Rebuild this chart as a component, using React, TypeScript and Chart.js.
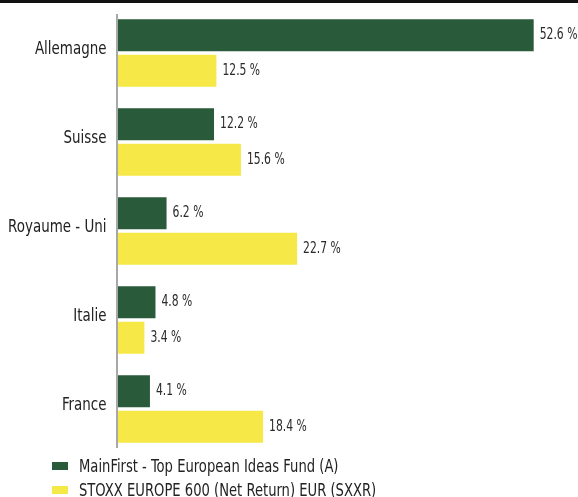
import React, { useEffect, useRef } from "react";
import { Chart, registerables } from "chart.js";

Chart.register(...registerables);

const categories = ["Allemagne", "Suisse", "Royaume - Uni", "Italie", "France"];
const fundLabel = "MainFirst - Top European Ideas Fund (A)";
const benchLabel = "STOXX EUROPE 600 (Net Return) EUR (SXXR)";
const fundValues = [52.6, 12.2, 6.2, 4.8, 4.1];
const benchValues = [12.5, 15.6, 22.7, 3.4, 18.4];

const GREEN = "#295a39";
const YELLOW = "#f6e846";
const FONT = "'Liberation Sans Narrow', 'DejaVu Sans Condensed', 'Arial Narrow', sans-serif";

const drawNarrow = (ctx: any, text: string, x: number, y: number, sx: number) => {
  ctx.save();
  ctx.translate(x, y);
  ctx.scale(sx, 1);
  ctx.fillText(text, 0, 0);
  ctx.restore();
};

const valueLabels = {
  id: "valueLabels",
  afterDatasetsDraw(chart: any) {
    const ctx = chart.ctx;
    ctx.save();
    ctx.font = `15px ${FONT}`;
    ctx.fillStyle = "#2a2a2a";
    ctx.textAlign = "left";
    ctx.textBaseline = "middle";
    chart.data.datasets.forEach((ds: any, i: number) => {
      const meta = chart.getDatasetMeta(i);
      meta.data.forEach((bar: any, j: number) => {
        const v = ds.data[j];
        drawNarrow(ctx, v.toFixed(1) + " %", bar.x + 6, bar.y, 0.8);
      });
    });
    ctx.restore();
  },
};

const categoryLabels = {
  id: "categoryLabels",
  afterDraw(chart: any) {
    const { ctx, chartArea } = chart;
    const scale = chart.scales.y;
    ctx.save();
    ctx.font = `18px ${FONT}`;
    ctx.fillStyle = "#222";
    ctx.textAlign = "right";
    ctx.textBaseline = "middle";
    chart.data.labels.forEach((lab: string, i: number) => {
      drawNarrow(ctx, lab, chartArea.left - 11, scale.getPixelForTick(i) - 3.5, 0.83);
    });
    ctx.restore();
  },
};

const axisLine = {
  id: "axisLine",
  afterDatasetsDraw(chart: any) {
    const { ctx, chartArea } = chart;
    ctx.save();
    ctx.strokeStyle = "#a8a8a8";
    ctx.lineWidth = 2;
    ctx.beginPath();
    ctx.moveTo(chartArea.left - 0.5, chartArea.top + 5.5);
    ctx.lineTo(chartArea.left - 0.5, chartArea.bottom - 5.5);
    ctx.stroke();
    ctx.restore();
  },
};

export default function App() {
  const ref = useRef<HTMLCanvasElement>(null);
  useEffect(() => {
    const chart = new Chart(ref.current!, {
      type: "bar",
      data: {
        labels: categories,
        datasets: [
          { label: fundLabel, data: fundValues, backgroundColor: GREEN, barPercentage: 0.9, categoryPercentage: 0.8 },
          { label: benchLabel, data: benchValues, backgroundColor: YELLOW, barPercentage: 0.9, categoryPercentage: 0.8 },
        ],
      },
      options: {
        indexAxis: "y",
        animation: false,
        responsive: false,
        maintainAspectRatio: false,
        layout: { padding: { top: 8.5, bottom: 43.5, left: 0, right: 0 } },
        plugins: {
          legend: { display: false },
          tooltip: { enabled: false },
        },
        scales: {
          x: { display: false, min: 0, max: 58.2 },
          y: {
            grid: { display: false, drawTicks: false },
            border: { display: false },
            afterFit: (s: any) => {
              s.width = 117.5;
              s.paddingTop = 0;
              s.paddingBottom = 0;
            },
            ticks: { display: false, autoSkip: false },
          },
        },
      },
      plugins: [valueLabels, axisLine, categoryLabels],
    });
    return () => chart.destroy();
  }, []);

  const legendItem = (color: string, text: string, top: number) => (
    <div style={{ position: "absolute", left: 52, top, display: "flex", alignItems: "center", height: 24 }}>
      <div style={{ width: 16, height: 8, background: color, marginRight: 11, flex: "none" }} />
      <span
        style={{
          fontFamily: FONT,
          fontSize: 17.5,
          color: "#222",
          whiteSpace: "nowrap",
          display: "inline-block",
          transform: "scaleX(0.835)",
          transformOrigin: "left center",
        }}
      >
        {text}
      </span>
    </div>
  );

  return (
    <div style={{ position: "fixed", left: 0, top: 0, width: 578, height: 497, background: "#fff", overflow: "hidden" }}>
      <div style={{ position: "absolute", left: 0, top: 0, width: 578, height: 2.5, background: "#111" }} />
      <canvas ref={ref} width={578} height={497} style={{ position: "absolute", left: 0, top: 0, width: 578, height: 497 }} />
      {legendItem(GREEN, fundLabel, 454)}
      {legendItem(YELLOW, benchLabel, 478)}
    </div>
  );
}
